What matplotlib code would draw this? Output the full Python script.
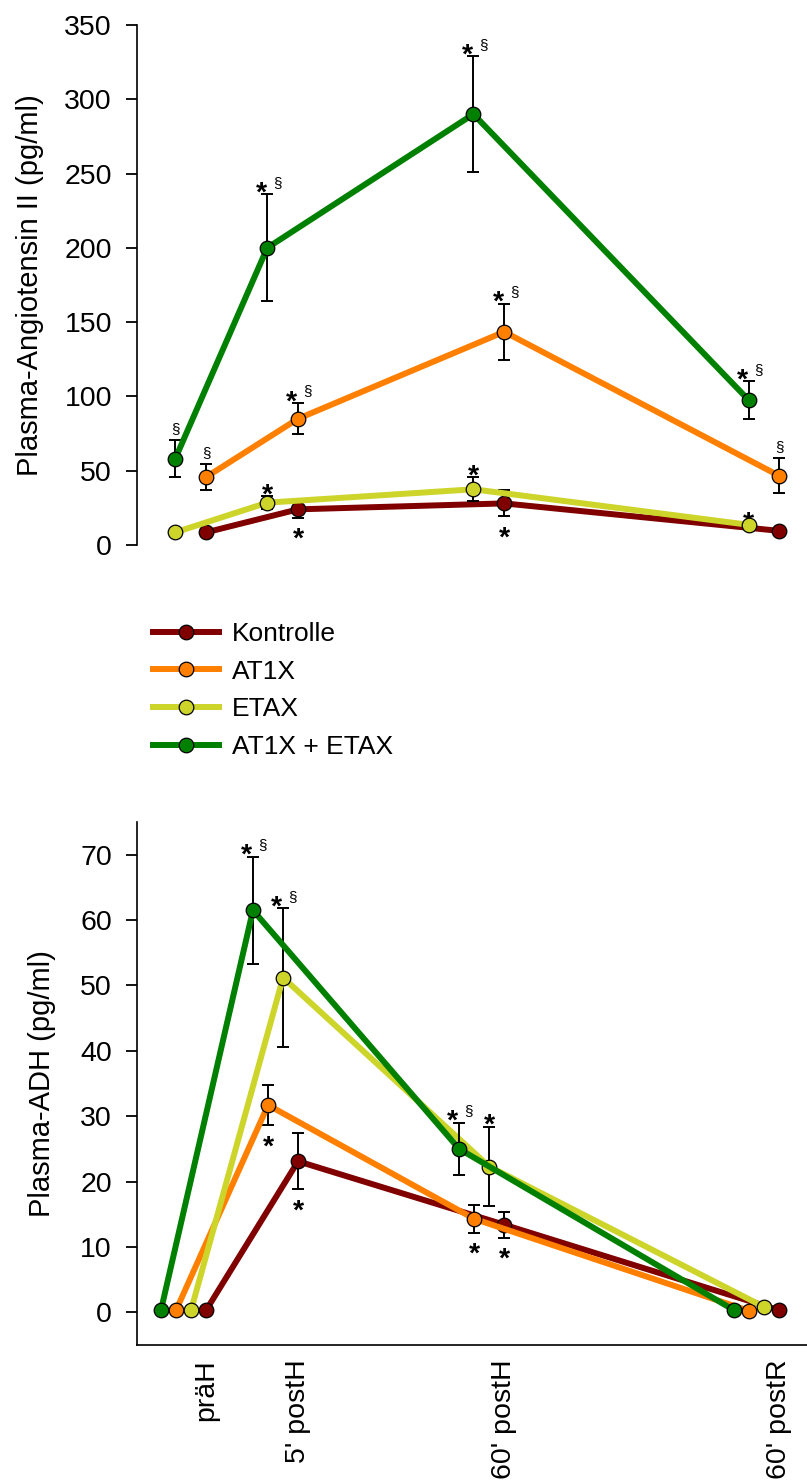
import matplotlib
matplotlib.use('Agg')
import matplotlib.pyplot as plt
from matplotlib.lines import Line2D

plt.rcParams['font.family'] = ['Liberation Sans', 'DejaVu Sans']

# Zeitpunkte
categories = ["präH", "5' postH", "60' postH", "60' postR"]
cat_x = [0, 1, 3.24, 6.23]

groups = ['Kontrolle', 'AT1X', 'ETAX', 'AT1X + ETAX']
colors = ['#800000', '#ff8000', '#cdd42a', '#008000']

# Plasma-Angiotensin II (pg/ml)
ang_kontrolle = [8.5, 24, 28, 9.5]
ang_kontrolle_err = [0, 5.5, 8.7, 0]
ang_at1x = [45.7, 85, 143.5, 46.5]
ang_at1x_err = [8.7, 10.6, 19, 11.8]
ang_etax = [8.5, 28.5, 37.5, 13.6]
ang_etax_err = [0, 4.5, 8, 0]
ang_both = [58, 200, 290, 97.6]
ang_both_err = [12.5, 36, 39, 12.6]

ang_sig_kontrolle = ['', '*', '*', '']
ang_sig_at1x = ['§', '*§', '*§', '§']
ang_sig_etax = ['', '*', '*', '*']
ang_sig_both = ['§', '*§', '*§', '*§']

# Plasma-ADH (pg/ml)
adh_kontrolle = [0.3, 23.1, 13.4, 0.3]
adh_kontrolle_err = [0, 4.3, 2.0, 0]
adh_at1x = [0.3, 31.7, 14.3, 0.2]
adh_at1x_err = [0, 3.1, 2.1, 0]
adh_etax = [0.3, 51.2, 22.3, 0.8]
adh_etax_err = [0, 10.6, 6.1, 0]
adh_both = [0.3, 61.5, 25.0, 0.3]
adh_both_err = [0, 8.2, 4.0, 0]

adh_sig_kontrolle = ['', '*', '*', '']
adh_sig_at1x = ['', '*', '*', '']
adh_sig_etax = ['', '*§', '*', '']
adh_sig_both = ['', '*§', '*§', '']

# сдвиг точек по x (в единицах оси)
ang_shift = [0, 0, -0.335, -0.335]
adh_shift = [0, -0.326, -0.163, -0.49]


def mark(ax, x, y, err, txt, below=False):
    if not txt:
        return
    if below:
        ax.annotate('*', (x, y - err), xytext=(0, -21), textcoords='offset points',
                    ha='center', va='baseline', fontsize=20.5, fontweight='bold')
        return
    base = (x, y + err)
    if txt == '*':
        ax.annotate('*', base, xytext=(0, -4.5), textcoords='offset points',
                    ha='center', va='baseline', fontsize=20.5, fontweight='bold')
    elif txt == '§':
        ax.annotate('§', base, xytext=(0, 5.5), textcoords='offset points',
                    ha='center', va='baseline', fontsize=11)
    else:
        ax.annotate('*', base, xytext=(-4.5, -4.5), textcoords='offset points',
                    ha='center', va='baseline', fontsize=20.5, fontweight='bold')
        ax.annotate('§', base, xytext=(7, 5.5), textcoords='offset points',
                    ha='center', va='baseline', fontsize=11)


def draw(ax, series, errs, sigs, shifts, below):
    for i in range(4):
        xs = [c + shifts[i] for c in cat_x]
        ax.errorbar(xs, series[i], yerr=errs[i], fmt='none', ecolor='black',
                    elinewidth=1.4, capsize=4.5, capthick=1.4, zorder=3 + i, clip_on=False)
        ax.plot(xs, series[i], color=colors[i], lw=4.3, marker='o', ms=10.5,
                mfc=colors[i], mec='black', mew=0.9, zorder=3.5 + i, clip_on=False)
        for j in range(4):
            mark(ax, xs[j], series[i][j], errs[i][j], sigs[i][j], below=below[i])


fig = plt.figure(figsize=(8.07, 14.84), dpi=100)

# --- Angiotensin II ---
ax1 = fig.add_axes([137 / 807, 1 - 545 / 1484, 1 - 137 / 807, 520 / 1484])
draw(ax1,
     [ang_kontrolle, ang_at1x, ang_etax, ang_both],
     [ang_kontrolle_err, ang_at1x_err, ang_etax_err, ang_both_err],
     [ang_sig_kontrolle, ang_sig_at1x, ang_sig_etax, ang_sig_both],
     ang_shift, [True, False, False, False])
ax1.set_ylim(0, 350)
ax1.set_xlim(-0.75, 6.53)
ax1.set_yticks(range(0, 351, 50))
ax1.set_xticks([])
for s in ['top', 'right', 'bottom']:
    ax1.spines[s].set_visible(False)
ax1.set_ylabel('Plasma-Angiotensin II (pg/ml)', fontsize=21)
ax1.yaxis.set_label_coords(-0.139, 0.5)

# --- ADH ---
ax2 = fig.add_axes([137 / 807, 1 - 1345 / 1484, 1 - 137 / 807, 523 / 1484])
draw(ax2,
     [adh_kontrolle, adh_at1x, adh_etax, adh_both],
     [adh_kontrolle_err, adh_at1x_err, adh_etax_err, adh_both_err],
     [adh_sig_kontrolle, adh_sig_at1x, adh_sig_etax, adh_sig_both],
     adh_shift, [True, True, False, False])
ax2.set_ylim(-5, 75)
ax2.set_xlim(-0.75, 6.53)
ax2.set_yticks(range(0, 71, 10))
ax2.set_xticks(cat_x)
ax2.set_xticklabels(categories, rotation=90, fontsize=20.5)
ax2.tick_params(axis='x', length=0, pad=10)
for s in ['top', 'right']:
    ax2.spines[s].set_visible(False)
ax2.set_ylabel('Plasma-ADH (pg/ml)', fontsize=21)
ax2.yaxis.set_label_coords(-0.121, 0.5)

for ax in (ax1, ax2):
    ax.tick_params(axis='y', length=8, width=1.3, pad=10, labelsize=20.5)
    for s in ax.spines.values():
        s.set_linewidth(1.2)
    ax.set_facecolor('none')

# Legende
handles = [Line2D([], [], color=c, lw=4.3, marker='o', ms=10.5, mfc=c,
                  mec='black', mew=0.9) for c in colors]
fig.legend(handles, groups, loc='upper left', bbox_to_anchor=(153 / 807, 1 - 622 / 1484),
           frameon=False, fontsize=19, numpoints=1, handlelength=2.5,
           handletextpad=0.5, labelspacing=0.52, borderpad=0, borderaxespad=0)

fig.savefig('out.png', dpi=100)
print('saved out.png')
